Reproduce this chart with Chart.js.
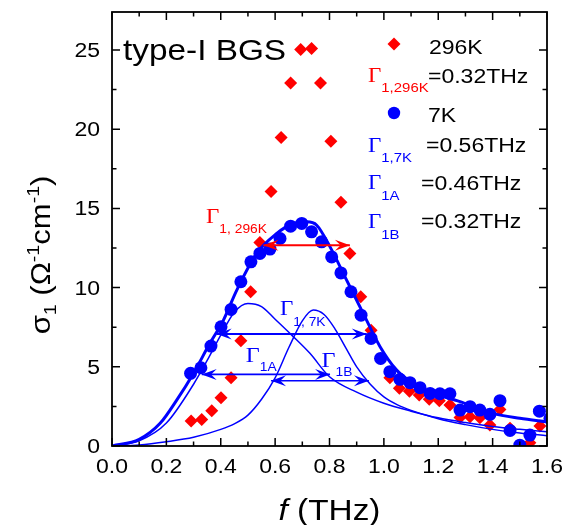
<!DOCTYPE html>
<html>
<head>
<meta charset="utf-8">
<script src="https://cdn.jsdelivr.net/npm/chart.js@4.4.1/dist/chart.umd.min.js"></script>
<style>
  html, body { margin: 0; padding: 0; background: #fff; }
  canvas { display: block; }
</style>
</head>
<body>
<canvas id="sigmaChart" width="565" height="525"></canvas>
<script>
// sigma_1 at 296 K (red diamonds)
const f296 = [0.291, 0.330, 0.367, 0.401, 0.438, 0.474, 0.510, 0.544, 0.585, 0.622, 0.657, 0.694,
              0.734, 0.767, 0.805, 0.842, 0.875, 0.915, 0.953, 0.988, 1.022, 1.057, 1.094, 1.130,
              1.167, 1.204, 1.243, 1.280, 1.317, 1.353, 1.390, 1.427, 1.464, 1.537, 1.574];
const s296 = [1.58, 1.68, 2.23, 3.05, 4.31, 6.65, 9.74, 12.85, 16.07, 19.47, 22.92, 25.03,
              25.09, 22.92, 19.24, 15.39, 12.16, 9.42, 7.30, 5.53, 4.31, 3.64, 3.45, 3.22,
              2.95, 2.85, 2.59, 1.80, 1.85, 1.78, 1.32, 2.31, 1.12, 0.20, 1.27];

// sigma_1 at 7 K (blue circles)
const f7 = [0.289, 0.327, 0.364, 0.401, 0.438, 0.474, 0.511, 0.544, 0.581, 0.618, 0.657, 0.698,
            0.734, 0.771, 0.808, 0.842, 0.879, 0.916, 0.953, 0.988, 1.022, 1.059, 1.096, 1.133,
            1.170, 1.206, 1.243, 1.280, 1.317, 1.353, 1.390, 1.427, 1.464, 1.500, 1.537, 1.572, 1.611];
const s7 = [4.59, 4.94, 6.31, 7.53, 8.62, 10.37, 11.63, 12.16, 12.43, 13.10, 13.88, 14.05,
            13.52, 12.89, 11.94, 10.93, 9.74, 8.26, 6.79, 5.53, 4.69, 4.21, 4.00, 3.68,
            3.32, 3.30, 3.30, 2.27, 2.48, 2.27, 2.00, 2.86, 0.98, 0.05, 0.69, 2.20, 1.75];

// 7 K fit (thick) and its two oscillators A and B (thin)
const fitF = [0, 0.1, 0.177, 0.238, 0.3, 0.36, 0.41, 0.459, 0.532, 0.606, 0.66, 0.716, 0.753,
              0.802, 0.863, 0.924, 0.986, 1.047, 1.108, 1.157, 1.28, 1.4, 1.5, 1.6];
const fitS = [0, 0.42, 1.43, 2.9, 4.6, 6.48, 7.95, 9.84, 12.16, 13.42, 14.0, 14.15, 13.94,
              12.57, 10.47, 8.37, 6.27, 4.79, 3.95, 3.5, 2.8, 2.06, 1.75, 1.53];
const oscAF = [0, 0.1, 0.2, 0.3, 0.35, 0.4, 0.45, 0.5, 0.55, 0.6, 0.661, 0.728, 0.8, 0.9,
               1.0, 1.1, 1.2, 1.3, 1.4, 1.5, 1.6];
const oscAS = [0, 0.33, 1.45, 3.9, 5.4, 7.0, 8.45, 9.0, 8.8, 8.0, 7.0, 5.85, 4.37, 3.4,
               2.7, 2.2, 1.78, 1.48, 1.23, 1.05, 0.9];
const oscBF = [0, 0.1, 0.2, 0.3, 0.4, 0.45, 0.5, 0.55, 0.6, 0.65, 0.7, 0.74, 0.78, 0.82, 0.86,
               0.9, 0.95, 1.0, 1.05, 1.1, 1.2, 1.3, 1.4, 1.5, 1.6];
const oscBS = [0, 0.07, 0.27, 0.55, 1.05, 1.4, 1.95, 2.95, 4.3, 6.2, 7.9, 8.58, 8.3, 7.4, 6.2,
               5.0, 3.9, 3.1, 2.6, 2.25, 1.72, 1.35, 1.05, 0.82, 0.65];

// linewidth markers: [from f, to f, at sigma]
const width296 = [0.557, 0.875, 12.68];
const width7K = [0.385, 0.937, 7.07];
const widthA = [0.330, 0.802, 4.52];
const widthB = [0.585, 0.945, 4.12];

const xTicks = [0, 0.2, 0.4, 0.6, 0.8, 1.0, 1.2, 1.4, 1.6];
const yTicks = [0, 5, 10, 15, 20, 25];

const RED = '#ff0000';
const BLUE = '#0000ff';
const SANS = '"Liberation Sans", Arial, sans-serif';
const SERIF = '"Liberation Serif", "Times New Roman", serif';
const WIDE = 1.15;

function toPoints(xs, ys) {
    return xs.map((x, i) => ({ x: x, y: ys[i] }));
}

function widthLine(w, color, lw) {
    return {
        data: [{ x: w[0], y: w[2] }, { x: w[1], y: w[2] }],
        showLine: true, borderColor: color, borderWidth: lw,
        pointRadius: 0, arrows: true, order: 1, clip: 0
    };
}

// text made of runs: [text, font, color, dy]
function drawRich(ctx, parts, x, y, align, rotate) {
    ctx.save();
    ctx.translate(x, y);
    if (rotate) ctx.rotate(rotate);
    ctx.scale(WIDE, 1);
    ctx.textAlign = 'left';
    ctx.textBaseline = 'alphabetic';
    let w = 0;
    parts.forEach(p => { ctx.font = p[1]; w += ctx.measureText(p[0]).width; });
    let cx = align === 'center' ? -w / 2 : (align === 'right' ? -w : 0);
    parts.forEach(p => {
        ctx.font = p[1];
        ctx.fillStyle = p[2];
        ctx.fillText(p[0], cx, p[3] || 0);
        cx += ctx.measureText(p[0]).width;
    });
    ctx.restore();
}

function arrowHead(ctx, x, y, dir, color) {
    const L = 15, W = 5.5;
    ctx.save();
    ctx.fillStyle = color;
    ctx.beginPath();
    ctx.moveTo(x, y);
    ctx.lineTo(x - dir * L, y - W);
    ctx.lineTo(x - dir * L * 0.62, y);
    ctx.lineTo(x - dir * L, y + W);
    ctx.closePath();
    ctx.fill();
    ctx.restore();
}

function gamma(sub, color, gSize, sSize, dy) {
    return [['\u0393', gSize + 'px ' + SERIF, color], [sub, sSize + 'px ' + SANS, color, dy]];
}

const decorations = {
    id: 'decorations',
    afterDatasetsDraw(chart) {
        const ctx = chart.ctx;
        chart.data.datasets.forEach((ds, i) => {
            if (!ds.arrows) return;
            const pts = chart.getDatasetMeta(i).data;
            arrowHead(ctx, pts[0].x, pts[0].y, -1, ds.borderColor);
            arrowHead(ctx, pts[1].x, pts[1].y, 1, ds.borderColor);
        });
    },
    afterDraw(chart) {
        const ctx = chart.ctx;
        const a = chart.chartArea;
        const x = chart.scales.x, y = chart.scales.y;

        // frame with inward ticks on all four sides
        ctx.save();
        ctx.strokeStyle = '#000';
        ctx.lineWidth = 1.8;
        ctx.strokeRect(a.left, a.top, a.right - a.left, a.bottom - a.top);
        ctx.lineWidth = 1.5;
        ctx.beginPath();
        const tick = (px, len, vertical) => {
            if (vertical) {
                ctx.moveTo(px, a.bottom); ctx.lineTo(px, a.bottom - len);
                ctx.moveTo(px, a.top); ctx.lineTo(px, a.top + len);
            } else {
                ctx.moveTo(a.left, px); ctx.lineTo(a.left + len, px);
                ctx.moveTo(a.right, px); ctx.lineTo(a.right - len, px);
            }
        };
        xTicks.forEach((v, i) => {
            tick(x.getPixelForValue(v), 8, true);
            if (i < xTicks.length - 1) tick(x.getPixelForValue(v + 0.1), 4.5, true);
        });
        yTicks.forEach(v => {
            tick(y.getPixelForValue(v), 8, false);
            if (v + 2.5 < y.max) tick(y.getPixelForValue(v + 2.5), 4.5, false);
        });
        ctx.stroke();
        ctx.restore();

        // tick labels
        const tf = '20px ' + SANS;
        xTicks.forEach(v => {
            drawRich(ctx, [[v.toFixed(1), tf, '#000']], x.getPixelForValue(v), a.bottom + 27, 'center');
        });
        yTicks.forEach(v => {
            drawRich(ctx, [[String(v), tf, '#000']], a.left - 12, y.getPixelForValue(v) + 7, 'right');
        });

        // axis titles
        drawRich(ctx, [['f', 'italic 29px ' + SANS, '#000'], [' (THz)', '29px ' + SANS, '#000']],
                 (a.left + a.right) / 2, 520, 'center');
        drawRich(ctx, [
            ['\u03c3', '27px ' + SANS, '#000'],
            ['1', '17px ' + SANS, '#000', 6],
            [' (\u03a9', '27px ' + SANS, '#000'],
            ['-1', '17px ' + SANS, '#000', -11],
            ['cm', '27px ' + SANS, '#000'],
            ['-1', '17px ' + SANS, '#000', -11],
            [')', '27px ' + SANS, '#000']
        ], 50, 255, 'center', -Math.PI / 2);

        // sample name
        drawRich(ctx, [['type-I BGS', '29px ' + SANS, '#000']], a.left + 11, a.top + 48);

        // legend
        const lx = a.right - 179;
        ctx.save();
        ctx.fillStyle = RED;
        ctx.beginPath();
        ctx.moveTo(lx + 26, 44 - 6.5); ctx.lineTo(lx + 32.5, 44);
        ctx.lineTo(lx + 26, 44 + 6.5); ctx.lineTo(lx + 19.5, 44);
        ctx.closePath(); ctx.fill();
        ctx.fillStyle = BLUE;
        ctx.beginPath(); ctx.arc(lx + 26, 113, 6.2, 0, Math.PI * 2); ctx.fill();
        ctx.restore();
        const lf = '20px ' + SANS;
        drawRich(ctx, [['296K', lf, '#000']], lx + 61, 54);
        drawRich(ctx, gamma('1,296K', RED, 20, 13, 10), lx, 82);
        drawRich(ctx, [['=0.32THz', lf, '#000']], lx + 60, 83);
        drawRich(ctx, [['7K', lf, '#000']], lx + 60, 122);
        drawRich(ctx, gamma('1,7K', BLUE, 20, 13, 10), lx, 152);
        drawRich(ctx, [['=0.56THz', lf, '#000']], lx + 58, 152);
        drawRich(ctx, gamma('1A', BLUE, 20, 13, 11), lx, 189);
        drawRich(ctx, [['=0.46THz', lf, '#000']], lx + 53, 190);
        drawRich(ctx, gamma('1B', BLUE, 20, 13, 11), lx, 228);
        drawRich(ctx, [['=0.32THz', lf, '#000']], lx + 53, 228);

        // linewidth labels next to the arrows
        drawRich(ctx, gamma('1, 296K', RED, 20, 12, 10), x.getPixelForValue(0.346), y.getPixelForValue(14.09));
        drawRich(ctx, gamma('1, 7K', BLUE, 20, 12, 11), x.getPixelForValue(0.618), y.getPixelForValue(8.26));
        drawRich(ctx, gamma('1A', BLUE, 21, 12, 9), x.getPixelForValue(0.492), y.getPixelForValue(5.32));
        drawRich(ctx, gamma('1B', BLUE, 21, 12, 9), x.getPixelForValue(0.771), y.getPixelForValue(5.0));
    }
};

const ctx = document.getElementById('sigmaChart').getContext('2d');
const chart = new Chart(ctx, {
    type: 'scatter',
    data: {
        datasets: [
            {
                label: '296K', data: toPoints(f296, s296), pointStyle: 'rectRot',
                pointRadius: 6.5, backgroundColor: RED, borderColor: RED, borderWidth: 0,
                order: 6, clip: 0
            },
            {
                label: '7K', data: toPoints(f7, s7), pointStyle: 'circle',
                pointRadius: 6.5, backgroundColor: BLUE, borderColor: BLUE, borderWidth: 0,
                order: 5, clip: 0
            },
            {
                label: 'fit 7K', data: toPoints(fitF, fitS), showLine: true, pointRadius: 0,
                borderColor: BLUE, borderWidth: 3, cubicInterpolationMode: 'monotone',
                order: 4, clip: 0
            },
            {
                label: 'A', data: toPoints(oscAF, oscAS), showLine: true, pointRadius: 0,
                borderColor: BLUE, borderWidth: 1.5, cubicInterpolationMode: 'monotone',
                order: 3, clip: 0
            },
            {
                label: 'B', data: toPoints(oscBF, oscBS), showLine: true, pointRadius: 0,
                borderColor: BLUE, borderWidth: 1.5, cubicInterpolationMode: 'monotone',
                order: 3, clip: 0
            },
            widthLine(width296, RED, 2),
            widthLine(width7K, BLUE, 1.8),
            widthLine(widthA, BLUE, 1.6),
            widthLine(widthB, BLUE, 1.6)
        ]
    },
    options: {
        responsive: false,
        animation: false,
        events: [],
        layout: { padding: { left: 0, top: 12, right: 18, bottom: 0 } },
        plugins: { legend: { display: false }, tooltip: { enabled: false } },
        scales: {
            x: {
                type: 'linear', min: 0, max: 1.6,
                grid: { display: false }, border: { display: false }, ticks: { display: false },
                afterFit: s => { s.height = 79; }
            },
            y: {
                type: 'linear', min: 0, max: 27.4,
                grid: { display: false }, border: { display: false }, ticks: { display: false },
                afterFit: s => { s.width = 112; }
            }
        }
    },
    plugins: [decorations]
});
</script>
</body>
</html>
